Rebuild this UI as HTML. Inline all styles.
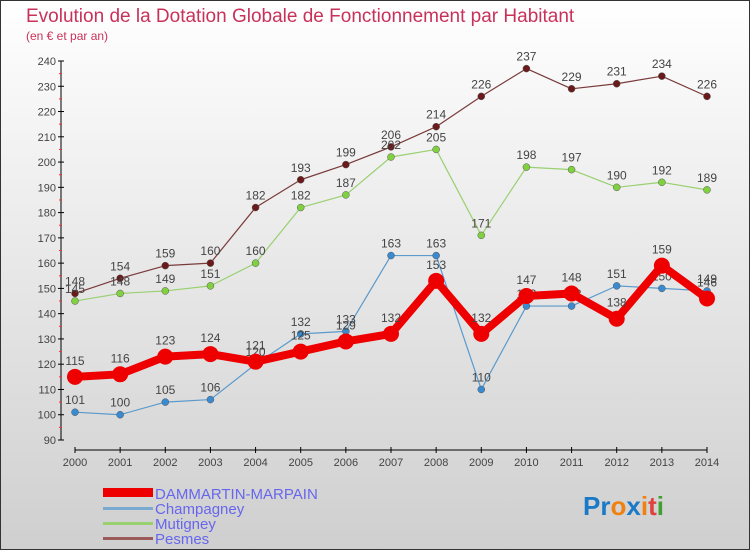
<!DOCTYPE html>
<html><head><meta charset="utf-8"><style>
body{margin:0;width:750px;height:550px;overflow:hidden;font-family:"Liberation Sans",sans-serif}
svg text{font-family:"Liberation Sans",sans-serif}
</style></head><body>
<svg width="750" height="550" xmlns="http://www.w3.org/2000/svg">
<defs><linearGradient id="bg" x1="0" y1="0" x2="0" y2="1"><stop offset="0" stop-color="#ffffff"/><stop offset="1" stop-color="#cfcfcf"/></linearGradient></defs>
<rect x="0.5" y="0.5" width="749" height="549" fill="url(#bg)" stroke="#333"/>
<text x="26" y="22" font-size="19" fill="#c8325a">Evolution de la Dotation Globale de Fonctionnement par Habitant</text>
<text x="26" y="40" font-size="12" fill="#c8325a">(en € et par an)</text>
<g id="axes"></g><g id="series"></g>
<g>
<rect x="103" y="488" width="50" height="9" fill="#e00"/>
<text x="155" y="499" font-size="15" fill="#6666ee">DAMMARTIN-MARPAIN</text>
<rect x="103" y="507" width="50" height="3" fill="#7aaad0"/>
<text x="155" y="514" font-size="15" fill="#6666ee">Champagney</text>
<rect x="103" y="522" width="50" height="3" fill="#99d070"/>
<text x="155" y="529" font-size="15" fill="#6666ee">Mutigney</text>
<rect x="103" y="537" width="50" height="3" fill="#9a5a5a"/>
<text x="155" y="544" font-size="15" fill="#6666ee">Pesmes</text>
</g>
<text x="583" y="515" font-size="26" font-weight="bold"><tspan fill="#1a7ac8">Pr</tspan><tspan fill="#f08010">o</tspan><tspan fill="#1a7ac8">x</tspan><tspan fill="#f08010">i</tspan><tspan fill="#e04040">t</tspan><tspan fill="#40a030">i</tspan></text>
</svg>
<script>
const years=[2000,2001,2002,2003,2004,2005,2006,2007,2008,2009,2010,2011,2012,2013,2014];
const yTicks=[90,100,110,120,130,140,150,160,170,180,190,200,210,220,230,240];
const dammartin=[115,116,123,124,121,125,129,132,153,132,147,148,138,159,146];
const champagney=[101,100,105,106,120,132,133,163,163,110,143,143,151,150,149];
const mutigney=[145,148,149,151,160,182,187,202,205,171,198,197,190,192,189];
const pesmes=[148,154,159,160,182,193,199,206,214,226,237,229,231,234,226];
const NS="http://www.w3.org/2000/svg";
const X=i=>75+i*(707-75)/(years.length-1);
const Y=v=>440-(v-90)*(440-61)/150;
function mk(tag,attrs,parent){const e=document.createElementNS(NS,tag);for(const k in attrs)e.setAttribute(k,attrs[k]);parent.appendChild(e);return e;}
const ax=document.getElementById('axes');
let l=mk('line',{x1:61,y1:Y(240),x2:61,y2:Y(90),stroke:'#000'},ax);


l=mk('line',{x1:X(0),y1:450,x2:X(years.length-1),y2:450,stroke:'#000'},ax);


yTicks.forEach(t=>{
 mk('line',{x1:58,y1:Y(t),x2:64,y2:Y(t),stroke:'#000'},ax);
 mk('line',{x1:59,y1:Y(t+5),x2:62,y2:Y(t+5),stroke:t<240?'#e33':'none'},ax);
 const tx=mk('text',{x:56,y:Y(t)+4,'font-size':11,'text-anchor':'end',fill:'#444'},ax);
 tx.textContent=t;
 
 
});
years.forEach((yr,i)=>{
 mk('line',{x1:X(i),y1:447,x2:X(i),y2:453,stroke:'#000'},ax);
 const tx=mk('text',{x:X(i),y:466,'font-size':11,'text-anchor':'middle',fill:'#444'},ax);
 tx.textContent=yr;
 
 
});
const sg=document.getElementById('series');
function draw(vals,color,dot,w,r,name){
 const g=mk('g',{},sg);
 
 
 const p=mk('polyline',{points:vals.map((v,i)=>X(i)+','+Y(v)).join(' '),fill:'none',stroke:color,'stroke-width':w,'stroke-linejoin':'round'},g);
 
 
 vals.forEach((v,i)=>{
  const c=mk('circle',{cx:X(i),cy:Y(v),r:r,fill:dot,stroke:r>5?'none':'#555','stroke-width':0.5},g);
  
  
  const t=mk('text',{x:X(i),y:Y(v)-(r>5?12:8),'font-size':12,'text-anchor':'middle',fill:'#444'},g);
  t.textContent=v;
  
  
 });
}
draw(pesmes,'#7a3a3a','#6a1a1a',1.2,3.5,'pesmes');
draw(mutigney,'#99d070','#80d040',1.2,3.5,'mutigney');
draw(champagney,'#5a9acc','#3a8ad0',1.2,3.5,'champagney');
draw(dammartin,'#ee0000','#ee0000',8,8,'dammartin');
</script>
</body></html>
